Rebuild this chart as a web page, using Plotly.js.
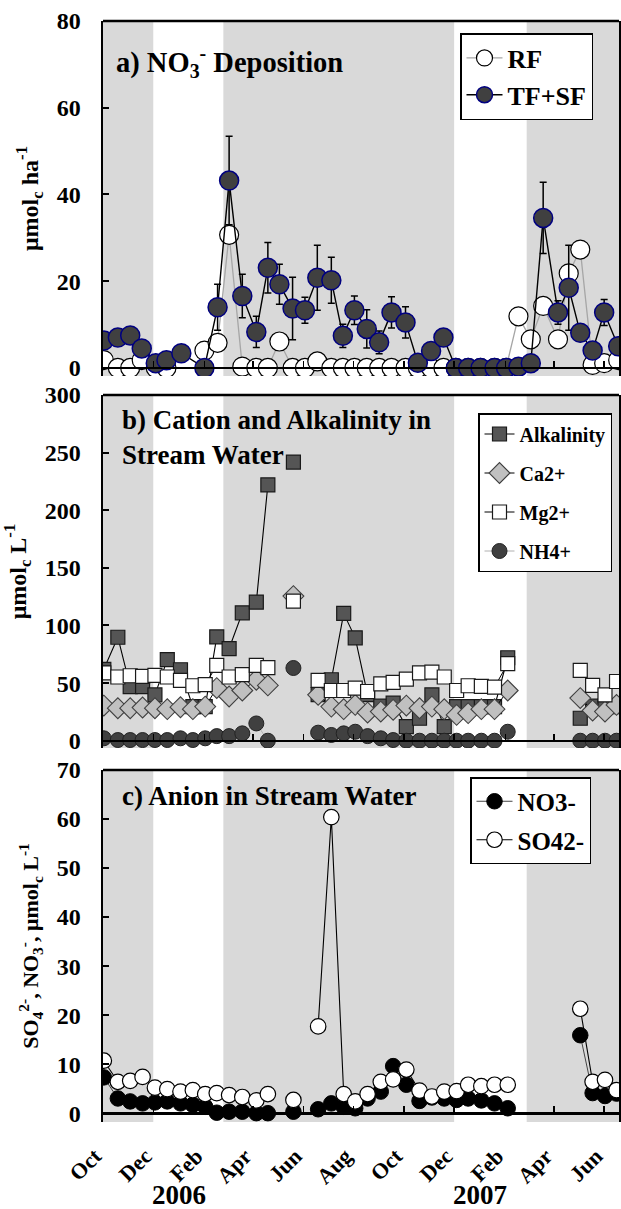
<!DOCTYPE html>
<html><head><meta charset="utf-8">
<script src="https://cdn.plot.ly/plotly-3.0.1.min.js"></script>
<style>html,body{margin:0;padding:0;background:#fff}#chart{width:621px;height:1209px}</style>
</head><body><div id="chart"></div>
<script>
// ---------- data ----------
const depositionDates = ['2005-10-02','2005-10-19','2005-11-03','2005-11-17','2005-12-04','2005-12-17','2006-01-04','2006-02-01','2006-02-17','2006-03-03',
  '2006-03-19','2006-04-05','2006-04-19','2006-05-03','2006-05-19','2006-06-03','2006-06-18','2006-07-05','2006-07-19','2006-08-02',
  '2006-08-17','2006-09-01','2006-09-16','2006-10-03','2006-10-18','2006-11-03','2006-11-18','2006-12-03','2006-12-18','2007-01-02',
  '2007-01-19','2007-02-02','2007-02-17','2007-03-04','2007-03-19','2007-04-06','2007-04-19','2007-05-03','2007-05-18','2007-06-01','2007-06-18'];
const rfNO3 = [1.8,0,0,1.8,0,0,null,4.0,5.8,30.7,
  0.3,0,0,6.1,0,0,1.5,0,0,0,
  0,0,0,0,0,0,0,0,0,0,
  0,0,11.9,6.6,14.3,6.6,21.8,27.3,0.7,1.1,1.8];
const tfsfNO3 = [6.3,7.0,7.5,4.5,1.1,1.8,3.4,0,14.0,43.2,
  16.6,8.3,23.1,19.3,13.7,13.3,20.8,20.2,7.4,13.3,
  9.0,5.9,12.8,10.5,1.2,3.9,7.0,0,0,0,
  0,0,0.3,1.1,34.6,12.8,18.5,8.1,4.0,12.8,5.0];
const tfsfNO3Err = [0,0,0,0,0,0,0,0,5.3,10.2,
  5.0,3.6,5.8,4.6,7.2,3.0,7.5,5.3,2.7,3.3,
  4.4,2.6,3.6,3.6,0,0,0,0,0,0,
  0,0,0,0,8.2,2.7,9.8,0,0,3.0,0];

const streamDates = ['2005-10-02','2005-10-19','2005-11-03','2005-11-18','2005-12-03','2005-12-18','2006-01-03','2006-01-18','2006-02-02','2006-02-16',
  '2006-03-03','2006-03-19','2006-04-05','2006-04-19','2006-05-04','2006-05-20','2006-06-05','2006-06-19','2006-07-05','2006-07-20',
  '2006-08-03','2006-08-18','2006-09-03','2006-09-18','2006-10-04','2006-10-20','2006-11-04','2006-11-19','2006-12-04','2006-12-18',
  '2007-01-03','2007-01-19','2007-02-04','2007-03-20','2007-05-03','2007-05-18','2007-06-02','2007-06-16'];
const alkalinity = [62,89.8,47,47,39.8,70.4,61.6,29.6,29.6,90.1,
  80,111,120.3,222,null,241.8,null,40,52.9,110.5,
  89.3,40,30,32.6,12.2,19.5,39.8,12.2,29.6,29.6,
  29.6,29.6,72,null,19.5,30,30,29.6];
const ca2 = [30.5,28.2,28.2,28.8,28.2,27.4,29.1,27.4,29.6,45.7,
  38.4,43.6,52.9,48,null,125.5,null,39.8,29.6,27.4,
  31.1,24.4,25.3,26.8,30.5,28.2,29.6,27.4,22.4,23.9,
  27.4,27.4,43.6,null,37,26.2,25.3,31.1];
const mg2 = [58.8,55.3,56.4,55.8,56.7,55.3,52.3,47.7,48.6,65.4,
  55.3,57.3,65.4,63.4,null,121.2,null,52.3,43.6,43.6,
  45.7,42.7,49.4,50.6,53.5,58.8,59.6,55.3,43.6,47.7,
  47.1,46.6,66.9,null,61,48,39.8,51.4];
const nh4 = [2.1,0.6,0.6,0.6,0.6,0.6,2.1,0.6,2.1,4,
  4,6.4,15,0,null,63.1,null,7,5,6.4,
  7.8,4,2.1,0.6,0,0,0,0,0,0,
  0,0,7.8,null,0,0,0,0];
const no3Stream = [7.3,3.0,2.4,2.0,2.2,2.4,2.0,1.7,1.3,0.1,
  0.3,0.3,0,0,null,0.3,null,0.8,2.0,1.3,
  1.0,3.0,4.4,9.6,5.8,2.5,3.2,3.0,2.7,3.0,
  2.6,2.0,1.0,null,15.9,4.1,3.5,4.0];
const so4Stream = [10.7,6.4,6.6,7.4,5.2,4.9,4.4,4.7,3.9,4.1,
  3.7,3.3,2.6,3.9,null,2.7,null,17.7,60.4,3.9,
  2.4,3.9,6.4,6.9,8.9,4.6,3.4,4.4,4.5,5.8,
  5.5,5.8,5.8,null,21.3,6.4,6.8,4.7];

const grayStarts = ['2005-09-25','2006-02-24','2007-02-27'];
const grayEnds   = ['2005-12-01','2006-12-01','2007-06-30'];
const yearLabels = ['2006','2007'];
const yearDates  = ['2006-01-01','2007-01-01'];

// ---------- layout helpers ----------
const FONT = 'Liberation Serif';
const xRange = ['2005-10-01','2007-06-19'];
const panels = [
  {dom:[0.6776,1.0], yr:[-1.85,80], dt:20},
  {dom:[0.3397,0.6603], yr:[-6.3,300], dt:50},
  {dom:[0.0,0.3197], yr:[-1.8,70], dt:10}
];
function zeroPos(p){ return p.dom[0] + (0-p.yr[0])/(p.yr[1]-p.yr[0])*(p.dom[1]-p.dom[0]); }

function xAxis(i){
  const p = panels[i];
  return {
    type:'date', range:xRange, anchor:'free', position:zeroPos(p),
    showline:true, linecolor:'black', linewidth:2.5,
    ticks:'inside', ticklen:6, tickwidth:1.5, tickcolor:'black',
    dtick:'M2', tick0:'2005-10-01', tickformat:'%b',
    showgrid:false, zeroline:false, showticklabels:(i===2),
    tickangle:-45, tickfont:{size:22, family:FONT, weight:'bold'},
    ticklabelstandoff:20, ticklabelshift:-8
  };
}
function yAxis(i, title, tsize){
  const p = panels[i];
  return {
    domain:p.dom, range:p.yr, dtick:p.dt, tick0:0, anchor: i===0?'x':('x'+(i+1)),
    showline:true, mirror:true, linecolor:'black', linewidth:2.5,
    ticks:'inside', ticklen:6, tickwidth:2, tickcolor:'black',
    showgrid:false, zeroline:false,
    tickfont:{size:24, family:FONT, weight:'bold'},
    ticklabelstandoff:15,
    title:{text:title, standoff:12, font:{size:tsize, family:FONT, weight:'bold'}}
  };
}

const shapes = [];
['x','x2','x3'].forEach((xr,i)=>{
  const yr = i===0?'y':('y'+(i+1));
  for(let k=0;k<grayStarts.length;k++){
    shapes.push({type:'rect', xref:xr, yref:yr+' domain', x0:grayStarts[k], x1:grayEnds[k], y0:0, y1:1,
      fillcolor:'#d9d9d9', line:{width:0}, layer:'below'});
  }
  shapes.push({type:'line', xref:xr+' domain', yref:yr+' domain', x0:0, x1:1, y0:1, y1:1,
    line:{color:'black', width:2.5}});
});

// ---------- traces ----------
const traces = [
  {x:depositionDates, y:rfNO3, name:'RF', legend:'legend', legendgroup:'rf', type:'scatter', mode:'lines+markers',
   xaxis:'x', yaxis:'y', connectgaps:false,
   line:{color:'#a6a6a6', width:1.3}, marker:{symbol:'circle', size:19, color:'white', line:{color:'black', width:1.2}}},
  {x:depositionDates, y:tfsfNO3, name:'TF+SF', legend:'legend', legendgroup:'tf', type:'scatter', mode:'lines+markers',
   xaxis:'x', yaxis:'y',
   error_y:{type:'data', array:tfsfNO3Err, visible:true, color:'black', thickness:1.5, width:3.5},
   line:{color:'black', width:1.4}, marker:{symbol:'circle', size:19, color:'#404040', line:{color:'#000080', width:1.5}}},

  {x:streamDates, y:alkalinity, name:'Alkalinity', legend:'legend2', legendgroup:'alk', type:'scatter', mode:'lines+markers',
   xaxis:'x2', yaxis:'y2', connectgaps:false,
   line:{color:'black', width:1.1}, marker:{symbol:'square', size:14, color:'#555555', line:{color:'#1a1a1a', width:1.2}}},
  {x:streamDates, y:ca2, name:'Ca2+', legend:'legend2', legendgroup:'ca', type:'scatter', mode:'lines+markers',
   xaxis:'x2', yaxis:'y2', connectgaps:false,
   line:{color:'black', width:1.0}, marker:{symbol:'diamond', size:16, color:'#c0c0c0', line:{color:'#404040', width:1.1}}},
  {x:streamDates, y:mg2, name:'Mg2+', legend:'legend2', legendgroup:'mg', type:'scatter', mode:'lines+markers',
   xaxis:'x2', yaxis:'y2', connectgaps:false,
   line:{color:'black', width:1.0}, marker:{symbol:'square', size:14, color:'white', line:{color:'#1a1a1a', width:1.2}}},
  {x:streamDates, y:nh4, name:'NH4+', legend:'legend2', legendgroup:'nh', type:'scatter', mode:'lines+markers',
   xaxis:'x2', yaxis:'y2', connectgaps:false,
   line:{color:'#b0b0b0', width:1.0}, marker:{symbol:'circle', size:15, color:'#404040', line:{color:'#222222', width:1}}},

  {x:streamDates, y:no3Stream, name:'NO3-', legend:'legend3', legendgroup:'no3', type:'scatter', mode:'lines+markers',
   xaxis:'x3', yaxis:'y3', connectgaps:false,
   line:{color:'#444444', width:1.0}, marker:{symbol:'circle', size:15.5, color:'black', line:{color:'black', width:1}}},
  {x:streamDates, y:so4Stream, name:'SO42-', legend:'legend3', legendgroup:'so4', type:'scatter', mode:'lines+markers',
   xaxis:'x3', yaxis:'y3', connectgaps:false,
   line:{color:'black', width:1.1}, marker:{symbol:'circle', size:15.5, color:'white', line:{color:'black', width:1.2}}}
];

const legendBase = {xanchor:'left', yanchor:'top', bgcolor:'white', bordercolor:'black', borderwidth:1.5,
  traceorder:'grouped', itemsizing:'trace'};
const layout = {
  width:621, height:1209, margin:{l:103, r:2, t:21, b:87},
  paper_bgcolor:'white', plot_bgcolor:'white',
  font:{family:FONT, weight:'bold', color:'black', size:20},
  xaxis:xAxis(0), xaxis2:xAxis(1), xaxis3:xAxis(2),
  yaxis:yAxis(0, 'μmol<sub>c</sub> ha<sup>-1</sup>', 24),
  yaxis2:yAxis(1, 'μmol<sub>c</sub> L<sup>-1</sup>', 24),
  yaxis3:yAxis(2, 'SO<sub>4</sub><sup>2-</sup>, NO<sub>3</sub><sup>-</sup>, μmol<sub>c</sub> L<sup>-1</sup>', 22),
  legend:Object.assign({}, legendBase, {x:(460-103)/516, y:(1122-33)/1101, font:{size:26, family:FONT, weight:'bold'}, tracegroupgap:0, itemwidth:36}),
  legend2:Object.assign({}, legendBase, {x:(478-103)/516, y:(1122-413)/1101, font:{size:20, family:FONT, weight:'bold'}, tracegroupgap:10}),
  legend3:Object.assign({}, legendBase, {x:(470-103)/516, y:(1122-777)/1101, font:{size:25, family:FONT, weight:'bold'}, tracegroupgap:3, itemwidth:36}),
  shapes:shapes,
  annotations:[
    {text:'a) NO<sub>3</sub><sup>-</sup> Deposition', xref:'paper', yref:'paper', x:(114-103)/516, y:(1122-62)/1101,
     xanchor:'left', yanchor:'middle', showarrow:false, font:{size:28.5, family:FONT, weight:'bold'}},
    {text:'b) Cation and Alkalinity in<br>Stream Water', xref:'paper', yref:'paper', x:(120-103)/516, y:(1122-403)/1101,
     xanchor:'left', yanchor:'top', align:'left', showarrow:false, font:{size:27, family:FONT, weight:'bold'}},
    {text:'c) Anion in Stream Water', xref:'paper', yref:'paper', x:(120-103)/516, y:(1122-796)/1101,
     xanchor:'left', yanchor:'middle', showarrow:false, font:{size:27, family:FONT, weight:'bold'}}
  ].concat(yearLabels.map((t,k)=>({text:t, xref:'x3', yref:'paper', x:yearDates[k], y:(1122-1195)/1101,
     xanchor:'center', yanchor:'middle', showarrow:false, font:{size:27, family:FONT, weight:'bold'}})))
};

Plotly.newPlot('chart', traces, layout, {displayModeBar:false, staticPlot:true});
</script></body></html>
